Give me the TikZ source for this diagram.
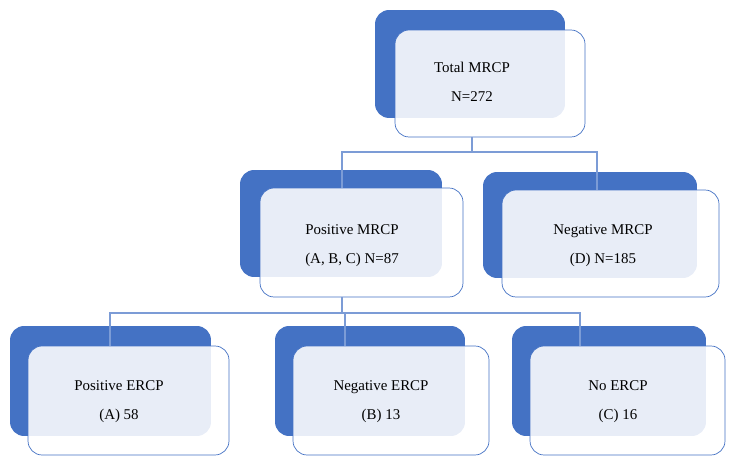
\documentclass[tikz,border=0pt]{standalone}
\usepackage{fontspec}
\setmainfont{Liberation Serif}
\usetikzlibrary{positioning}
\usetikzlibrary{calc}
\definecolor{boxblue}{RGB}{68,114,196}
\tikzset{back/.style={rectangle,rounded corners=8pt,fill=boxblue,minimum width=3.9cm,minimum height=2.16cm},
	front/.style={rectangle,rounded corners=8pt,draw=boxblue,fill=white,fill opacity=0.88,minimum width=4.02cm,minimum height=2.18cm},
	txt/.style={align=center,font=\fontsize{8.5}{16.5}\selectfont},
	link/.style={draw=boxblue!70,line width=0.6pt}}
\begin{document}
\begin{tikzpicture}[x=0.02cm,y=-0.02cm]
	\useasboundingbox (0,0) rectangle (730,465);
	% top level
	\node[back,minimum width=3.8cm] (B1) at (470,64) {};
	\node[front,minimum width=3.8cm,minimum height=2.14cm] (F1) at (490,83.5) {};
	\node[txt] (T1) at (472,82) {Total MRCP\\N=272};
	% second level
	\node[back,minimum width=4.04cm,minimum height=2.14cm] (B2) at (341,223.5) {};
	\node[front,minimum width=4.06cm] (F2) at (361.5,242.5) {};
	\node[txt] (T2) at (352,246) {Positive MRCP\\(A, B, C) N=87};
	\node[back,minimum width=4.28cm,minimum height=2.12cm] (B3) at (590,225) {};
	\node[front,minimum width=4.34cm,minimum height=2.14cm] (F3) at (610.5,243.5) {};
	\node[txt] (T3) at (603,246) {Negative MRCP\\(D) N=185};
	% third level
	\node[back,minimum width=4.02cm,minimum height=2.2cm] (B4) at (110.5,381) {};
	\node[front,minimum width=4.02cm] (F4) at (128.5,400.5) {};
	\node[txt] (T4) at (119,402) {Positive ERCP\\(A) 58};
	\node[back,minimum width=3.8cm,minimum height=2.2cm] (B5) at (370,381) {};
	\node[front,minimum width=3.92cm] (F5) at (391,400.5) {};
	\node[txt] (T5) at (381,402) {Negative ERCP\\(B) 13};
	\node[back,minimum width=3.88cm,minimum height=2.2cm] (B6) at (609,381) {};
	\node[front,minimum width=3.9cm] (F6) at (627.5,400.5) {};
	\node[txt] (T6) at (618,402) {No ERCP\\(C) 16};
	% connectors
	\coordinate (J1) at (472,152);
	\coordinate (J2) at (342,313);
	\path[link] (F1.south -| J1) -- (J1);
	\path[link] (J1) -| ([xshift=-0.39cm]F2.north);
	\path[link] (J1) -| ([xshift=-0.27cm]F3.north);
	\path[link] (F2.south -| J2) -- (J2);
	\path[link] (J2) -| ([xshift=-0.37cm]F4.north);
	\path[link] (J2) -| ([xshift=-0.92cm]F5.north);
	\path[link] (J2) -| ([xshift=-0.95cm]F6.north);
\end{tikzpicture}
\end{document}
